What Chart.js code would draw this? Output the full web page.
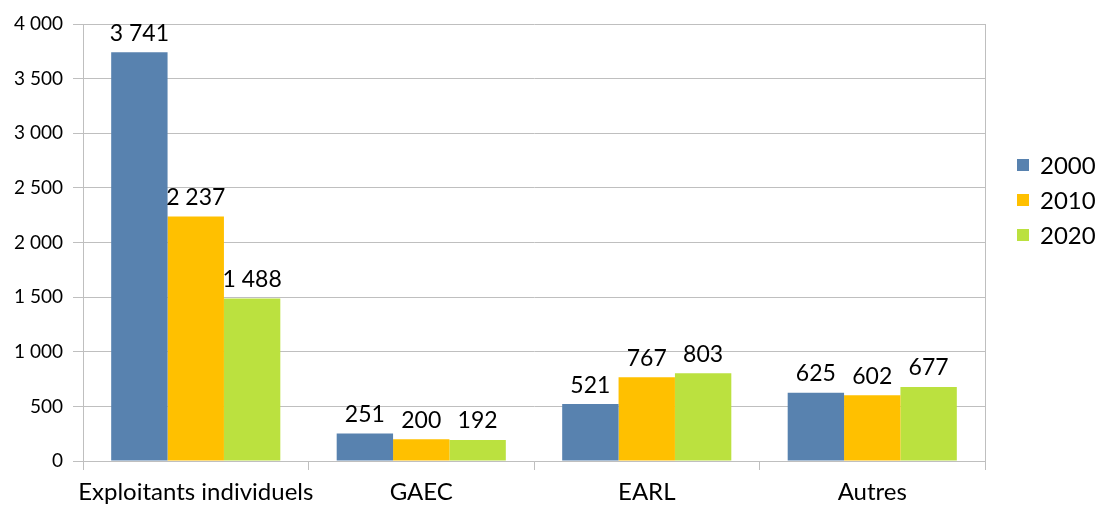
<!DOCTYPE html>
<html>
<head>
<meta charset="utf-8">
<script src="https://cdn.jsdelivr.net/npm/chart.js@4"></script>
<style>
  html, body { margin: 0; padding: 0; background: #fff; }
  #wrap { width: 1097px; height: 505px; position: relative; }
</style>
</head>
<body>
<div id="wrap"><canvas id="chart"></canvas></div>
<script>
const categories = ["Exploitants individuels", "GAEC", "EARL", "Autres"];
const years      = ["2000", "2010", "2020"];
const vals2000   = [3741, 251, 521, 625];
const vals2010   = [2237, 200, 767, 602];
const vals2020   = [1488, 192, 803, 677];
const yTicks     = [0, 500, 1000, 1500, 2000, 2500, 3000, 3500, 4000];

const COLORS = ["#5882AF", "#FFC000", "#BBE13F"];
const GRID   = "#BFBFBF";
const FONT   = "Lato, 'Open Sans', sans-serif";

const fmt = v => String(v).replace(/\B(?=(\d{3})+(?!\d))/g, " ");

// value labels above the bars
const barLabels = {
  id: "barLabels",
  afterDatasetsDraw(chart) {
    const ctx = chart.ctx;
    ctx.save();
    ctx.font = `23px ${FONT}`;
    ctx.fillStyle = "#000";
    ctx.textAlign = "center";
    ctx.textBaseline = "middle";
    chart.data.datasets.forEach((ds, i) => {
      chart.getDatasetMeta(i).data.forEach((bar, j) => {
        ctx.fillText(fmt(ds.data[j]), bar.x, bar.y - 19);
      });
    });
    ctx.restore();
  },
};

// legend on the right + right border line
const sideLegend = {
  id: "sideLegend",
  afterDraw(chart) {
    const ctx = chart.ctx, a = chart.chartArea;
    ctx.save();
    ctx.strokeStyle = GRID;
    ctx.lineWidth = 1;
    ctx.beginPath();
    ctx.moveTo(Math.round(a.right) + 0.5, a.top);
    ctx.lineTo(Math.round(a.right) + 0.5, a.bottom + 9);
    ctx.stroke();

    ctx.font = `24px ${FONT}`;
    ctx.textBaseline = "middle";
    ctx.textAlign = "left";
    chart.data.datasets.forEach((ds, i) => {
      const y = 165 + i * 35;
      ctx.fillStyle = ds.backgroundColor;
      ctx.fillRect(1017, y - 6, 12, 12);
      ctx.fillStyle = "#000";
      ctx.fillText(ds.label, 1040, y + 1);
    });
    ctx.restore();
  },
};

new Chart(document.getElementById("chart"), {
  type: "bar",
  data: {
    labels: categories,
    datasets: [
      { label: years[0], data: vals2000, backgroundColor: COLORS[0] },
      { label: years[1], data: vals2010, backgroundColor: COLORS[1] },
      { label: years[2], data: vals2020, backgroundColor: COLORS[2] },
    ],
  },
  options: {
    responsive: true,
    maintainAspectRatio: false,
    animation: false,
    layout: { padding: { top: 24, right: 112 } },
    datasets: { bar: { categoryPercentage: 0.75, barPercentage: 1, borderWidth: 0 } },
    plugins: { legend: { display: false }, tooltip: { enabled: false } },
    scales: {
      x: {
        afterFit: s => { s.height = 44; },
        grid: { drawOnChartArea: false, tickLength: 9, color: GRID, tickColor: GRID },
        border: { color: GRID },
        ticks: { color: "#000", font: { family: FONT, size: 24 }, padding: 8, maxRotation: 0, autoSkip: false },
      },
      y: {
        min: 0, max: 4000,
        afterFit: s => { s.width = 83; },
        afterBuildTicks: s => { s.ticks = yTicks.map(v => ({ value: v })); },
        grid: { color: GRID, tickLength: 10, tickColor: GRID },
        border: { color: GRID },
        ticks: { color: "#000", font: { family: FONT, size: 19 }, padding: 10, callback: v => fmt(v) },
      },
    },
  },
  plugins: [barLabels, sideLegend],
});
</script>
</body>
</html>
